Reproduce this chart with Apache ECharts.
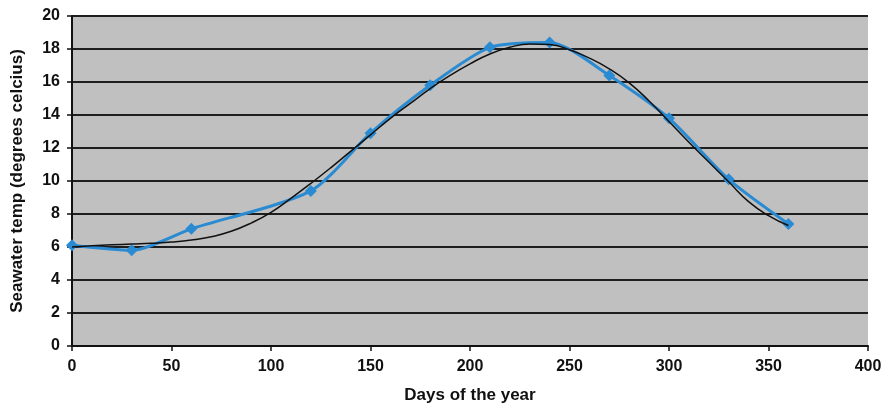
<!DOCTYPE html>
<html>
<head>
<meta charset="utf-8">
<style>
  html, body { margin: 0; padding: 0; background: #fff; }
  #chart { width: 885px; height: 410px; }
</style>
<script src="https://cdn.jsdelivr.net/npm/echarts@6/dist/echarts.min.js"></script>
</head>
<body>
<div id="chart"></div>
<script>
// Measured seawater temperatures
const sampleDays = [0, 30, 60, 120, 150, 180, 210, 240, 270, 300, 330, 360];
const sampleTemps = [6.1, 5.8, 7.1, 9.4, 12.9, 15.8, 18.1, 18.4, 16.4, 13.8, 10.1, 7.4];

// Trend curve through the seasonal cycle
const trendDays = [0, 10, 20, 30, 40, 50, 60, 70, 80, 90, 100, 110, 120, 130, 140, 150, 160, 170, 180,
  190, 200, 210, 220, 230, 240, 250, 260, 270, 280, 290, 300, 310, 320, 330, 340, 350, 360];
const trendTemps = [6.0, 6.07, 6.13, 6.18, 6.23, 6.3, 6.42, 6.62, 6.95, 7.45, 8.1, 8.95, 9.85, 10.8, 11.8, 12.8, 13.8, 14.7, 15.6,
  16.4, 17.1, 17.7, 18.1, 18.3, 18.27, 17.95, 17.45, 16.8, 15.95, 14.85, 13.6, 12.35, 11.15, 9.95, 8.75, 7.9, 7.3];

const xTicks = { min: 0, max: 400, interval: 50 };
const yTicks = { min: 0, max: 20, interval: 2 };

const pair = (xs, ys) => xs.map((x, i) => [x, ys[i]]);

const labelFont = { fontFamily: 'Liberation Sans, Arial, sans-serif', fontWeight: 'bold', fontSize: 16, color: '#111' };
const titleFont = { fontFamily: 'Liberation Sans, Arial, sans-serif', fontWeight: 'bold', fontSize: 17, color: '#111' };

const chart = echarts.init(document.getElementById('chart'), null, { renderer: 'canvas' });
chart.setOption({
  animation: false,
  backgroundColor: '#ffffff',
  grid: {
    left: 72, right: 17, top: 16, bottom: 64,
    show: true,
    backgroundColor: '#c0c0c0',
    borderWidth: 0
  },
  xAxis: {
    type: 'value',
    min: xTicks.min, max: xTicks.max, interval: xTicks.interval,
    name: 'Days of the year',
    nameLocation: 'middle',
    nameGap: 41,
    nameTextStyle: titleFont,
    axisLine: { show: true, onZero: false, lineStyle: { color: '#111', width: 2 } },
    axisTick: { show: true, inside: false, length: 5, lineStyle: { color: '#111', width: 1.5 } },
    axisLabel: Object.assign({ margin: 13 }, labelFont),
    splitLine: { show: false }
  },
  yAxis: {
    type: 'value',
    min: yTicks.min, max: yTicks.max, interval: yTicks.interval,
    name: 'Seawater temp (degrees celcius)',
    nameLocation: 'middle',
    nameGap: 46,
    nameRotate: 90,
    nameTextStyle: titleFont,
    axisLine: { show: true, lineStyle: { color: '#111', width: 2 } },
    axisTick: { show: true, inside: false, length: 5, lineStyle: { color: '#111', width: 1.5 } },
    axisLabel: Object.assign({ margin: 12 }, labelFont),
    splitLine: { show: true, lineStyle: { color: '#1e1e1e', width: 2 } }
  },
  series: [
    {
      name: 'Measured',
      type: 'line',
      data: pair(sampleDays, sampleTemps),
      smooth: 0.25,
      symbol: 'diamond',
      symbolSize: 12,
      lineStyle: { color: '#2a8bd2', width: 3 },
      itemStyle: { color: '#2a8bd2' },
      z: 3
    },
    {
      name: 'Trend',
      type: 'line',
      data: pair(trendDays, trendTemps),
      smooth: true,
      symbol: 'none',
      lineStyle: { color: '#111', width: 1.5 },
      z: 4
    }
  ]
});
</script>
</body>
</html>
